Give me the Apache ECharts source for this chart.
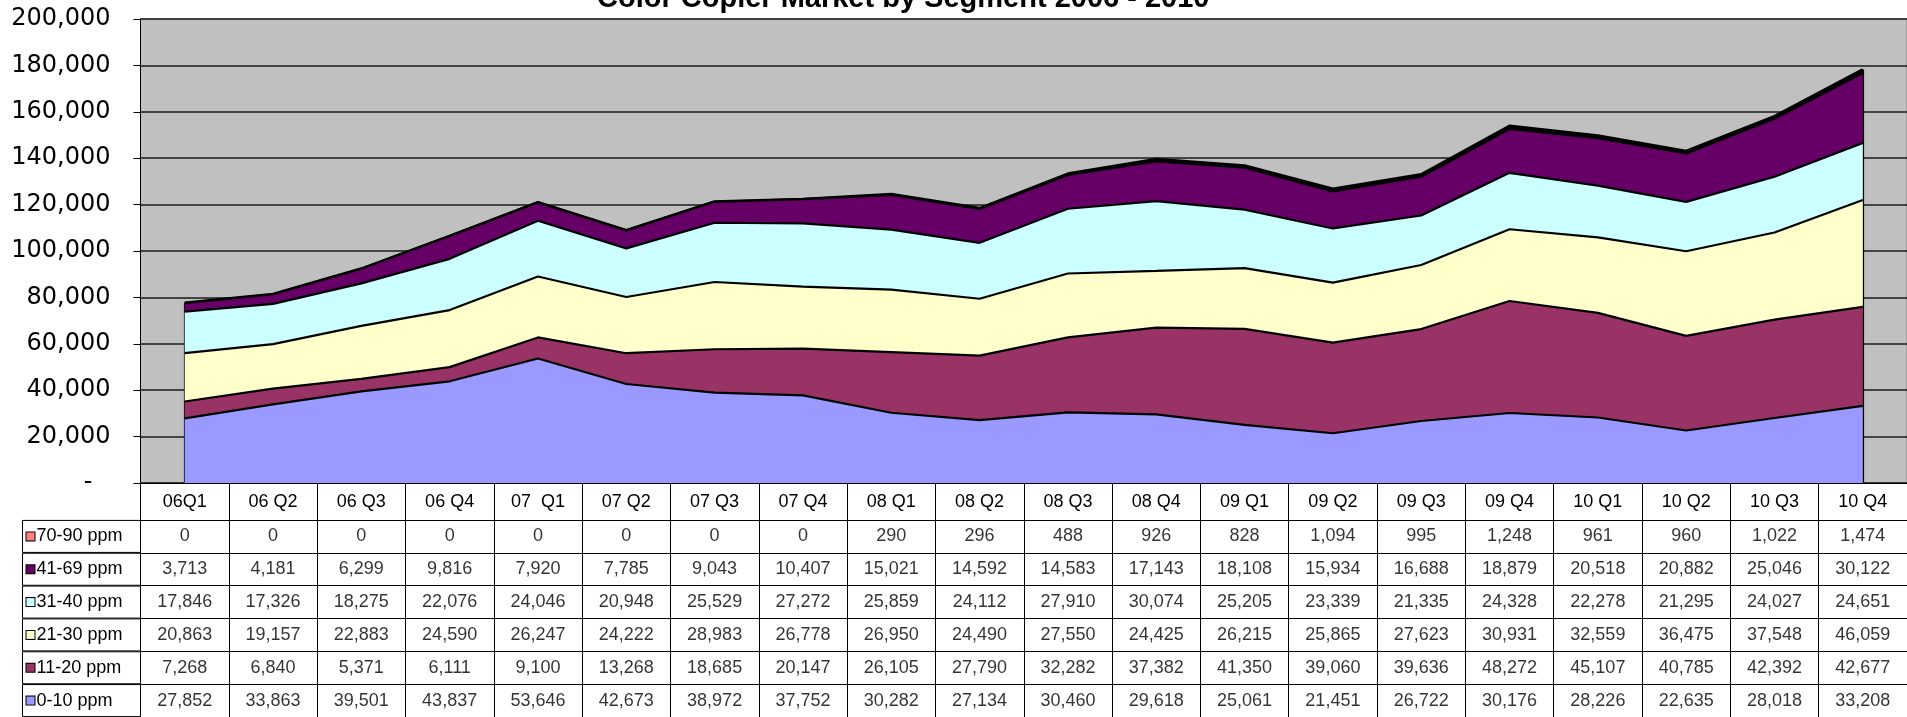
<!DOCTYPE html>
<html>
<head>
<meta charset="utf-8">
<script src="https://cdn.jsdelivr.net/npm/echarts@6/dist/echarts.min.js"></script>
<style>
  html, body { margin: 0; padding: 0; background: #fff; }
  #chart { width: 1907px; height: 717px; }
</style>
</head>
<body>
<div id="chart"></div>
<script>
// 季度
const categories = ['06Q1', '06 Q2', '06 Q3', '06 Q4', '07  Q1', '07 Q2', '07 Q3', '07 Q4',
  '08 Q1', '08 Q2', '08 Q3', '08 Q4', '09 Q1', '09 Q2', '09 Q3', '09 Q4',
  '10 Q1', '10 Q2', '10 Q3', '10 Q4']

// 各速度段 (从下往上堆叠)
const ppm0_10 = [27852, 33863, 39501, 43837, 53646, 42673, 38972, 37752, 30282, 27134,
  30460, 29618, 25061, 21451, 26722, 30176, 28226, 22635, 28018, 33208]
const ppm11_20 = [7268, 6840, 5371, 6111, 9100, 13268, 18685, 20147, 26105, 27790,
  32282, 37382, 41350, 39060, 39636, 48272, 45107, 40785, 42392, 42677]
const ppm21_30 = [20863, 19157, 22883, 24590, 26247, 24222, 28983, 26778, 26950, 24490,
  27550, 24425, 26215, 25865, 27623, 30931, 32559, 36475, 37548, 46059]
const ppm31_40 = [17846, 17326, 18275, 22076, 24046, 20948, 25529, 27272, 25859, 24112,
  27910, 30074, 25205, 23339, 21335, 24328, 22278, 21295, 24027, 24651]
const ppm41_69 = [3713, 4181, 6299, 9816, 7920, 7785, 9043, 10407, 15021, 14592,
  14583, 17143, 18108, 15934, 16688, 18879, 20518, 20882, 25046, 30122]
const ppm70_90 = [0, 0, 0, 0, 0, 0, 0, 0, 290, 296,
  488, 926, 828, 1094, 995, 1248, 961, 960, 1022, 1474]

const segmentNames = ['0-10 ppm', '11-20 ppm', '21-30 ppm', '31-40 ppm', '41-69 ppm', '70-90 ppm']
const segmentData = [ppm0_10, ppm11_20, ppm21_30, ppm31_40, ppm41_69, ppm70_90]

const yTicks = { min: 0, max: 200000, interval: 20000 }

// 颜色: 图例方块 / 面积填充 (最上面一层很薄, 图上看是黑的)
const legendColors = ['#9999FF', '#993366', '#FFFFCC', '#CCFFFF', '#660066', '#FF8080']
const areaColors = ['#9999FF', '#993366', '#FFFFCC', '#CCFFFF', '#660066', '#000000']

const fmt = (v) => v.toLocaleString('en-US')
const axisFont = 'DejaVu Sans'
const tableFont = 'Liberation Sans'

let mycharts = echarts.init(document.getElementById('chart'))

// 表格左侧图例文字 (从上往下)
const tableRows = segmentNames.slice().reverse()
const rich = {
  t: { align: 'left', fontSize: 18, fontFamily: tableFont, color: '#000', padding: [0, 0, 0, 2] }
}
tableRows.forEach((name, i) => {
  rich['sq' + i] = {
    align: 'left', width: 8, height: 8,
    backgroundColor: legendColors[segmentNames.indexOf(name)],
    borderColor: '#000', borderWidth: 1
  }
})

// 表格里的数值
const cellData = []
segmentNames.forEach((name, s) => {
  segmentData[s].forEach((v, i) => {
    cellData.push([i, name, v])
  })
})

// 两端的竖边
const last = categories.length - 1
const totalAt = (i) => segmentData.reduce((a, arr) => a + arr[i], 0)

const option = {
  animation: false,
  title: {
    text: 'Color Copier Market by Segment 2006 - 2010',
    left: 592,
    top: -21,
    textStyle: { fontSize: 29, fontWeight: 'bold', fontFamily: 'Liberation Sans', color: '#000' }
  },
  grid: [
    {
      left: 140.5, top: 19, width: 1772, height: 464,
      show: true, backgroundColor: '#C0C0C0', borderColor: '#808080', borderWidth: 1
    },
    { left: 140.5, top: 520, width: 1772, height: 200 }
  ],
  xAxis: [
    {
      gridIndex: 0,
      type: 'category',
      data: categories,
      boundaryGap: true,
      axisLine: { lineStyle: { color: '#000', width: 1 } },
      axisTick: { show: true, length: 37, lineStyle: { color: '#000', width: 1 } },
      axisLabel: { margin: 10, fontSize: 18, fontFamily: tableFont, color: '#000', interval: 0 },
      splitLine: { show: false }
    },
    {
      gridIndex: 1,
      type: 'category',
      data: categories,
      position: 'top',
      boundaryGap: true,
      axisLine: { lineStyle: { color: '#000', width: 1 } },
      axisTick: { show: false },
      axisLabel: { show: false },
      splitLine: { show: true, interval: 0, lineStyle: { color: '#000', width: 1 } }
    }
  ],
  yAxis: [
    {
      gridIndex: 0,
      type: 'value',
      min: yTicks.min,
      max: yTicks.max,
      interval: yTicks.interval,
      axisLine: { show: true, lineStyle: { color: '#000', width: 1 } },
      axisTick: { show: true, length: 7, lineStyle: { color: '#000' } },
      axisLabel: {
        margin: 30,
        fontSize: 24,
        fontFamily: axisFont,
        color: '#000',
        formatter: (v) => (v === 0 ? '{z|-}' : fmt(v)),
        rich: { z: { fontSize: 24, fontFamily: axisFont, color: '#000', padding: [0, 18, 0, 0] } }
      },
      splitLine: { show: true, lineStyle: { color: '#1a1a1a', width: 1.5 } }
    },
    {
      gridIndex: 1,
      type: 'category',
      inverse: true,
      data: tableRows,
      axisLine: { lineStyle: { color: '#000', width: 1 } },
      axisTick: { show: false },
      axisLabel: {
        interval: 0,
        showMinLabel: true,
        showMaxLabel: true,
        hideOverlap: false,
        margin: 0,
        width: 114,
        height: 32,
        lineHeight: 32,
        padding: [0, 0, 0, 4],
        borderColor: '#000',
        borderWidth: 1,
        formatter: (v, i) => '{sq' + i + '|}{t|' + v + '}',
        rich: rich
      },
      splitLine: { show: true, interval: 0, lineStyle: { color: '#000', width: 1 } }
    }
  ],
  series: [
    ...segmentNames.map((name, s) => ({
      name: name,
      type: 'line',
      xAxisIndex: 0,
      yAxisIndex: 0,
      stack: 'total',
      symbol: 'none',
      z: 10 - s,
      lineStyle: { color: '#000', width: s === segmentNames.length - 1 ? 3 : 2.2 },
      areaStyle: { color: areaColors[s], opacity: 1 },
      data: segmentData[s],
      markLine: s === segmentNames.length - 1 ? {
        silent: true,
        symbol: 'none',
        label: { show: false },
        lineStyle: { color: '#000', width: 2.2, type: 'solid' },
        data: [
          [{ coord: [0, 0] }, { coord: [0, totalAt(0)] }],
          [{ coord: [last, 0] }, { coord: [last, totalAt(last)] }]
        ]
      } : undefined
    })),
    {
      type: 'scatter',
      xAxisIndex: 1,
      yAxisIndex: 1,
      symbolSize: 1,
      itemStyle: { color: 'rgba(0,0,0,0)' },
      label: {
        show: true,
        position: 'inside',
        fontSize: 18,
        fontFamily: tableFont,
        color: '#000',
        formatter: (p) => fmt(p.value[2])
      },
      data: cellData
    }
  ]
}

mycharts.setOption(option)
</script>
</body>
</html>
